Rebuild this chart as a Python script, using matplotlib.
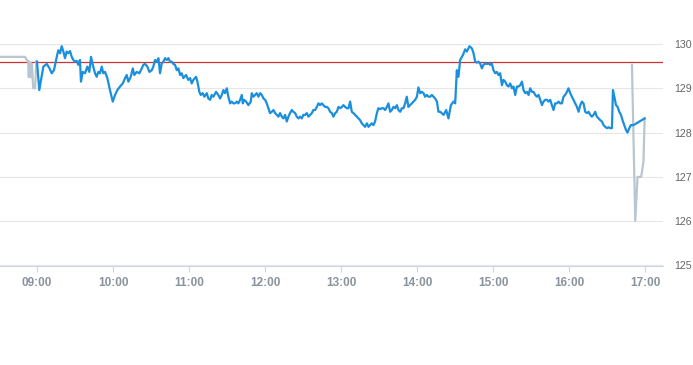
import matplotlib
matplotlib.use("Agg")
import matplotlib.pyplot as plt

# minutes after 09:00 and prices
main_t = [0, 1.8, 5.0, 7.7, 9.7, 11.6, 13.4, 15.6, 16.8, 18.2, 19.5, 20.8, 22.1, 23.4, 24.7, 26.1, 27.4, 28.7, 30.0, 31.3,
          32.6, 33.9, 34.7, 36.1, 37.9, 39.7, 41.3, 42.6, 44.0, 45.8, 47.1, 48.4, 49.7, 51.1, 52.3, 53.7, 55.5, 57.6, 59.8, 61.6,
          63.4, 65.5, 67.7, 69.5, 70.8, 72.1, 74.0, 75.6, 76.8, 78.7, 80.8, 82.7, 83.9, 85.3, 87.1, 88.7, 90.6, 91.8, 93.2, 94.5,
          95.8, 97.1, 98.4, 99.7, 101.1, 102.4, 103.7, 105.0, 106.3, 107.6, 108.9, 110.3, 111.6, 112.9, 114.2, 115.5, 117.6, 119.4, 120.8, 122.1,
          123.4, 125.5, 126.6, 128.1, 129.2, 130.8, 132.1, 134.0, 135.2, 136.6, 137.9, 139.2, 141.3, 143.1, 144.5, 145.8, 147.1, 148.4, 149.8, 151.0,
          152.4, 153.7, 155.0, 156.3, 157.7, 158.9, 160.3, 161.6, 162.4, 163.4, 165.0, 166.8, 168.7, 169.5, 170.8, 172.1, 173.4, 174.7, 176.1, 177.4,
          178.7, 180.0, 181.3, 182.6, 183.9, 185.3, 186.6, 187.9, 189.2, 190.5, 191.8, 193.2, 194.4, 195.8, 197.1, 198.4, 199.7, 201.1, 202.3, 203.7,
          205.0, 206.3, 207.6, 209.0, 210.2, 211.6, 212.9, 214.2, 215.5, 216.9, 218.1, 219.5, 220.8, 222.1, 223.4, 224.8, 226.0, 227.4, 228.7, 230.0,
          231.3, 232.7, 233.9, 235.3, 236.6, 237.9, 239.2, 240.6, 241.8, 243.2, 244.5, 245.8, 247.1, 248.4, 249.7, 251.1, 252.4, 253.7, 255.0, 256.3,
          257.6, 258.9, 260.3, 261.6, 262.9, 264.2, 265.5, 266.8, 268.2, 269.4, 270.8, 272.1, 273.4, 274.7, 276.1, 277.3, 278.7, 280.0, 281.3, 282.6,
          284.0, 285.2, 286.6, 287.9, 289.2, 290.5, 291.8, 293.1, 294.5, 295.8, 297.1, 298.4, 299.8, 301.0, 302.4, 303.7, 305.0, 306.3, 307.7, 308.9,
          310.3, 311.6, 312.9, 314.2, 315.6, 316.8, 318.2, 320.8, 322.9, 324.7, 326.6, 328.7, 330.0, 331.3, 332.6, 333.9, 336.1, 337.9, 339.2, 341.3,
          343.2, 344.5, 345.8, 347.1, 348.4, 349.7, 351.1, 352.3, 353.7, 355.0, 356.3, 357.6, 358.9, 360.2, 361.6, 362.9, 364.2, 365.5, 366.9, 368.1,
          369.5, 370.8, 372.1, 373.4, 374.8, 376.0, 377.4, 378.7, 380.0, 381.3, 382.7, 383.9, 385.3, 386.6, 387.9, 389.2, 390.6, 391.8, 393.2, 394.5,
          395.8, 397.1, 398.5, 399.7, 401.1, 402.4, 403.7, 405.0, 406.3, 407.6, 408.9, 410.3, 411.6, 412.9, 414.2, 415.5, 416.8, 418.2, 419.4, 420.8,
          422.1, 423.4, 424.7, 426.1, 427.4, 428.7, 430.0, 431.3, 432.6, 434.0, 435.3, 436.6, 437.9, 439.2, 440.5, 441.8, 443.2, 444.5, 445.8, 447.1,
          448.4, 449.8, 451.0, 452.4, 453.7, 454.5, 455.6, 456.9, 458.2, 459.5, 460.8, 462.1, 463.4, 464.8, 466.0, 467.4, 468.7, 470.8, 479.5]
main_p = [129.60, 128.96, 129.49, 129.55, 129.46, 129.34, 129.41, 129.71, 129.86, 129.79, 129.95, 129.83, 129.68, 129.83, 129.79, 129.84, 129.71, 129.64, 129.60, 129.62,
          129.53, 129.64, 129.15, 129.37, 129.34, 129.49, 129.37, 129.71, 129.53, 129.34, 129.26, 129.37, 129.34, 129.49, 129.34, 129.37, 129.23, 128.96, 128.70, 128.85,
          128.96, 129.04, 129.11, 129.23, 129.30, 129.15, 129.26, 129.45, 129.30, 129.37, 129.34, 129.45, 129.53, 129.55, 129.49, 129.37, 129.41, 129.49, 129.64, 129.60,
          129.68, 129.34, 129.56, 129.60, 129.68, 129.64, 129.68, 129.60, 129.60, 129.55, 129.53, 129.41, 129.45, 129.30, 129.34, 129.23, 129.30, 129.19, 129.23, 129.11,
          129.19, 129.26, 129.15, 128.92, 128.85, 128.89, 128.81, 128.89, 128.77, 128.74, 128.85, 128.81, 128.92, 128.85, 128.77, 128.85, 128.96, 128.89, 129.00, 128.81,
          128.66, 128.70, 128.66, 128.66, 128.70, 128.66, 128.74, 128.85, 128.66, 128.74, 128.70, 128.62, 128.70, 128.89, 128.81, 128.85, 128.89, 128.81, 128.89, 128.85,
          128.77, 128.74, 128.66, 128.55, 128.44, 128.47, 128.51, 128.44, 128.40, 128.36, 128.44, 128.36, 128.32, 128.40, 128.25, 128.36, 128.44, 128.51, 128.47, 128.44,
          128.36, 128.32, 128.36, 128.32, 128.40, 128.40, 128.44, 128.36, 128.40, 128.44, 128.51, 128.51, 128.58, 128.66, 128.62, 128.66, 128.62, 128.58, 128.58, 128.55,
          128.47, 128.44, 128.36, 128.44, 128.47, 128.58, 128.55, 128.58, 128.62, 128.58, 128.55, 128.55, 128.70, 128.47, 128.44, 128.40, 128.36, 128.32, 128.28, 128.21,
          128.17, 128.13, 128.21, 128.13, 128.17, 128.21, 128.17, 128.25, 128.44, 128.55, 128.53, 128.55, 128.55, 128.51, 128.58, 128.66, 128.47, 128.51, 128.58, 128.55,
          128.62, 128.51, 128.47, 128.55, 128.55, 128.66, 128.81, 128.58, 128.62, 128.66, 128.70, 128.74, 128.81, 129.02, 128.89, 128.92, 128.89, 128.81, 128.85, 128.81,
          128.81, 128.85, 128.81, 128.77, 128.70, 128.47, 128.47, 128.40, 128.51, 128.32, 128.62, 128.70, 128.66, 129.41, 129.26, 129.64, 129.75, 129.88, 129.83, 129.95,
          129.90, 129.79, 129.60, 129.58, 129.60, 129.56, 129.45, 129.53, 129.56, 129.55, 129.56, 129.53, 129.56, 129.41, 129.34, 129.37, 129.30, 129.34, 129.07, 129.19,
          129.15, 129.07, 129.04, 129.11, 129.00, 129.04, 128.85, 129.04, 129.04, 129.07, 129.15, 128.96, 128.89, 128.92, 128.85, 129.00, 128.92, 128.92, 128.85, 128.81,
          128.85, 128.74, 128.62, 128.70, 128.74, 128.74, 128.70, 128.74, 128.62, 128.51, 128.66, 128.66, 128.70, 128.66, 128.66, 128.81, 128.85, 128.92, 129.00, 128.89,
          128.81, 128.74, 128.66, 128.58, 128.47, 128.62, 128.70, 128.66, 128.47, 128.44, 128.47, 128.40, 128.36, 128.40, 128.47, 128.36, 128.32, 128.28, 128.25, 128.17,
          128.13, 128.10, 128.12, 128.10, 128.10, 128.96, 128.81, 128.62, 128.58, 128.47, 128.40, 128.28, 128.17, 128.06, 128.00, 128.10, 128.17, 128.17, 128.32]

pre_t = [-29.2, -9.5, -8.1, -7.0, -6.5, -6.0, -5.0, -4.5, -4.0, -3.0, -1.5, -0.5, 0]
pre_p = [129.71, 129.71, 129.64, 129.62, 129.25, 129.58, 129.58, 129.25, 129.55, 129.00, 129.00, 129.62, 129.60]

post_t = [469.5, 472.1, 473.9, 476.8, 478.6, 479.5]
post_p = [129.53, 126.01, 127.00, 127.00, 127.35, 128.32]

prev_close = 129.59

hour_ticks = [0, 60, 120, 180, 240, 300, 360, 420, 480]
hour_labels = ["09:00", "10:00", "11:00", "12:00", "13:00", "14:00", "15:00", "16:00", "17:00"]
price_ticks = [125, 126, 127, 128, 129, 130]

fig = plt.figure(figsize=(6.93, 3.65), dpi=100)
ax = fig.add_axes([0, 1 - 265.5 / 365, 663 / 693, (265.5 - 44) / 365])

ax.plot(pre_t, pre_p, color="#b9c6cf", lw=1.6, solid_joinstyle="round", zorder=3)
ax.plot(post_t, post_p, color="#b9c6cf", lw=1.6, solid_joinstyle="round", zorder=3)
ax.plot(main_t, main_p, color="#1a8fdd", lw=1.6, solid_joinstyle="round", zorder=4)
ax.axhline(prev_close, color="#cc3333", lw=0.9, zorder=2)

ax.set_xlim(-29.2, 494)
ax.set_ylim(125, 130)

ax.set_yticks(price_ticks)
ax.set_yticklabels([str(v) for v in price_ticks])
ax.yaxis.tick_right()
ax.grid(axis="y", color="#e6e6e6", lw=0.8)
ax.set_axisbelow(True)

ax.set_xticks(hour_ticks)
ax.set_xticklabels(hour_labels)

for s in ["top", "left", "right"]:
    ax.spines[s].set_visible(False)
ax.spines["bottom"].set_color("#ccd6eb")
ax.spines["bottom"].set_linewidth(0.8)

ax.tick_params(axis="x", colors="#ccd6eb", length=4, width=0.8, pad=4,
               labelcolor="#8a939c", labelsize=8.5)
ax.tick_params(axis="y", length=0, pad=8.3, labelcolor="#666666", labelsize=7.7)
for lab in ax.get_xticklabels():
    lab.set_fontweight("bold")
    lab.set_fontfamily("Liberation Sans")
for lab in ax.get_yticklabels():
    lab.set_fontfamily("Liberation Sans")

fig.savefig("out.png", dpi=100)
